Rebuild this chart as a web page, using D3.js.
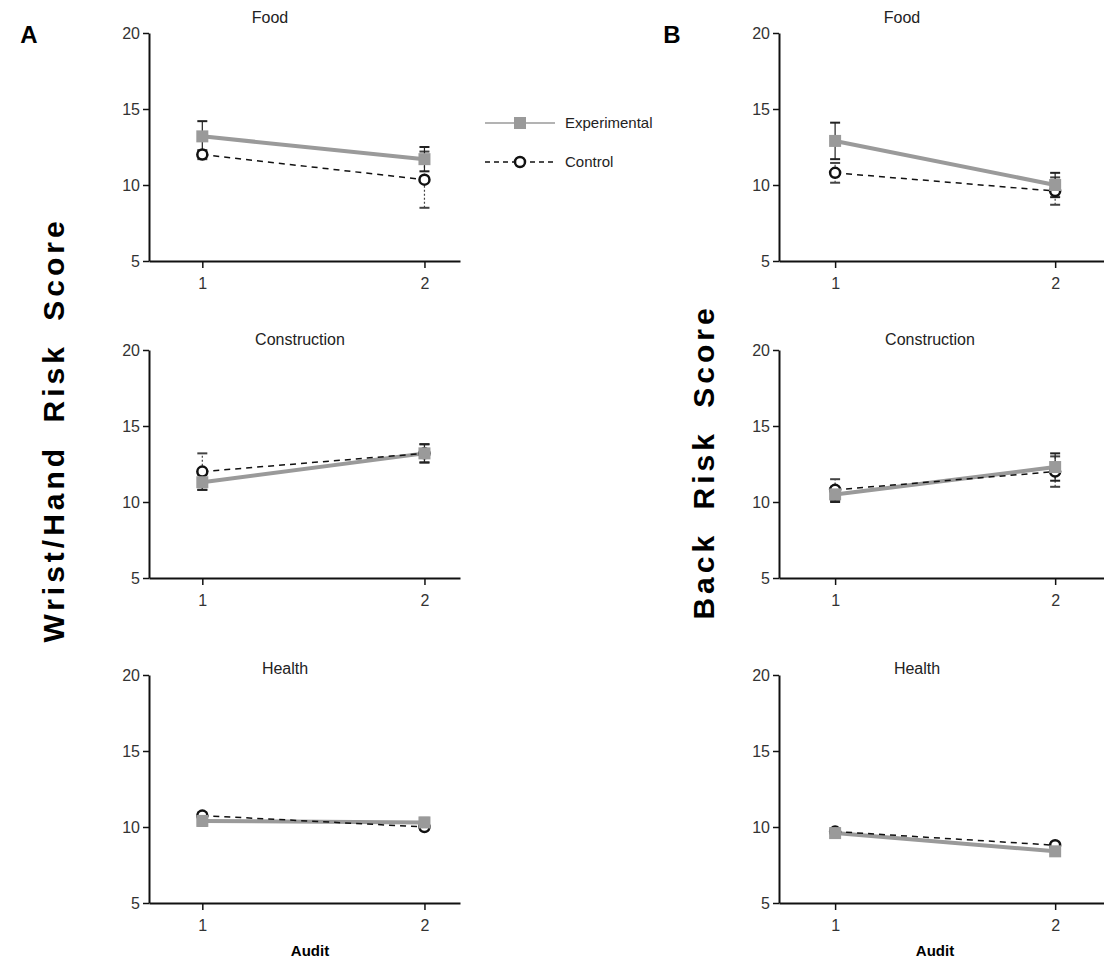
<!DOCTYPE html>
<meta charset="utf-8">
<script src="https://d3js.org/d3.v7.min.js"></script>
<style>
  body { margin: 0; background: #fff; }
  text { font-family: Arial, "Liberation Sans", sans-serif; }
</style>
<body>
<div id="chart"></div>
<script>

// sectors (one row of panels each) and audit rounds
const sectors = ["Food", "Construction", "Health"];
const audits = [1, 2];
const yTicks = [5, 10, 15, 20];

// A: wrist/hand risk score, mean per audit
const wristExp = [[13.2, 11.7], [11.3, 13.2], [10.4, 10.3]];
const wristExpErr = [[1.0, 0.8], [0.5, 0.6], [0.3, 0.3]];
const wristCtrl = [[12.0, 10.35], [12.0, 13.2], [10.75, 10.0]];
const wristCtrlErr = [[0.3, 1.85], [1.2, 0.6], [0.2, 0.2]];

// B: back risk score
const backExp = [[12.9, 10.0], [10.5, 12.3], [9.6, 8.4]];
const backExpErr = [[1.2, 0.8], [0.5, 0.9], [0.3, 0.3]];
const backCtrl = [[10.8, 9.6], [10.8, 12.0], [9.7, 8.8]];
const backCtrlErr = [[0.65, 0.9], [0.7, 1.0], [0.2, 0.2]];

const W = 1104, H = 963;
const svg = d3.select("#chart").append("svg")
  .attr("width", W).attr("height", H);

// layout of the two columns
const columns = [
  {letter: "A", lx: 29, left: 149, width: 311, xDomain: [0.76, 2.16],
   label: "Wrist/Hand Risk Score", labelX: 64, labelY: 430,
   exp: wristExp, expErr: wristExpErr, ctrl: wristCtrl, ctrlErr: wristCtrlErr,
   titleX: [270, 300, 285], auditX: 310},
  {letter: "B", lx: 672, left: 779, width: 325, xDomain: [0.745, 2.222],
   label: "Back Risk Score", labelX: 714, labelY: 462,
   exp: backExp, expErr: backExpErr, ctrl: backCtrl, ctrlErr: backCtrlErr,
   titleX: [902, 930, 917], auditX: 935}
];
const panelTops = [33, 350, 675];
const titleDy = [-10, -5, -1];
const plotH = 228;

const expColor = "#9a9a9a";

columns.forEach(function(col) {
  // panel letter
  svg.append("text")
    .attr("x", col.lx).attr("y", 43)
    .attr("text-anchor", "middle")
    .style("font-size", "24px").style("font-weight", "bold")
    .text(col.letter);

  // shared y label
  svg.append("text")
    .attr("transform", `translate(${col.labelX},${col.labelY}) rotate(-90)`)
    .attr("text-anchor", "middle")
    .style("font-size", "30px").style("font-weight", "bold")
    .style("letter-spacing", "4px").style("word-spacing", "10px")
    .text(col.label);

  sectors.forEach(function(sector, i) {
    const g = svg.append("g")
      .attr("transform", `translate(${col.left},${panelTops[i]})`);

    const x = d3.scaleLinear().domain(col.xDomain).range([0, col.width]);
    const y = d3.scaleLinear().domain([5, 20]).range([plotH, 0]);

    // axes
    const yAxis = g.append("g")
      .call(d3.axisLeft(y).tickValues(yTicks).tickFormat(d3.format("d"))
        .tickSize(6).tickSizeOuter(0).tickPadding(3));
    const xAxis = g.append("g")
      .attr("transform", `translate(0,${plotH})`)
      .call(d3.axisBottom(x).tickValues(audits).tickFormat(d3.format("d"))
        .tickSize(7).tickSizeOuter(0).tickPadding(10));
    [yAxis, xAxis].forEach(function(a) {
      a.select(".domain").attr("stroke", "#111").attr("stroke-width", 2);
      a.selectAll(".tick line").attr("stroke", "#111").attr("stroke-width", 1.5);
      a.selectAll(".tick text").style("font-size", "16px").attr("fill", "#333");
    });

    // title
    svg.append("text")
      .attr("x", col.titleX[i]).attr("y", panelTops[i] + titleDy[i])
      .attr("text-anchor", "middle")
      .style("font-size", "16px").attr("fill", "#222")
      .text(sector);

    const expPts = audits.map((a, j) => ({a: a, v: col.exp[i][j], e: col.expErr[i][j]}));
    const ctrlPts = audits.map((a, j) => ({a: a, v: col.ctrl[i][j], e: col.ctrlErr[i][j]}));
    const line = d3.line().x(d => x(d.a)).y(d => y(d.v));

    // error bars
    function errBars(pts, color, dash) {
      const eb = g.append("g");
      pts.forEach(function(d) {
        eb.append("line")
          .attr("x1", x(d.a)).attr("x2", x(d.a))
          .attr("y1", y(d.v - d.e)).attr("y2", y(d.v + d.e))
          .attr("stroke", color).attr("stroke-width", 1.2)
          .attr("stroke-dasharray", dash);
        [d.v - d.e, d.v + d.e].forEach(function(v) {
          eb.append("line")
            .attr("x1", x(d.a) - 5).attr("x2", x(d.a) + 5)
            .attr("y1", y(v)).attr("y2", y(v))
            .attr("stroke", color).attr("stroke-width", 2);
        });
      });
    }
    errBars(ctrlPts, "#444", "2,2");
    errBars(expPts, "#222", null);

    g.append("path").datum(expPts)
      .attr("d", line).attr("fill", "none")
      .attr("stroke", expColor).attr("stroke-width", 4);
    g.append("path").datum(ctrlPts)
      .attr("d", line).attr("fill", "none")
      .attr("stroke", "#111").attr("stroke-width", 1.5)
      .attr("stroke-dasharray", "6,5");

    g.selectAll(".ctrl").data(ctrlPts).enter().append("circle")
      .attr("cx", d => x(d.a)).attr("cy", d => y(d.v)).attr("r", 5)
      .attr("fill", "#fff").attr("stroke", "#111").attr("stroke-width", 2.5);
    g.selectAll(".exp").data(expPts).enter().append("rect")
      .attr("x", d => x(d.a) - 6).attr("y", d => y(d.v) - 6)
      .attr("width", 12).attr("height", 12)
      .attr("fill", expColor);

    if (i === sectors.length - 1) {
      svg.append("text")
        .attr("x", col.auditX).attr("y", panelTops[i] + plotH + 53)
        .attr("text-anchor", "middle")
        .style("font-size", "15px").style("font-weight", "bold")
        .text("Audit");
    }
  });
});

// legend
const legend = svg.append("g").attr("transform", "translate(485,0)");
legend.append("line").attr("x1", 0).attr("x2", 70).attr("y1", 123).attr("y2", 123)
  .attr("stroke", expColor).attr("stroke-width", 1.5);
legend.append("rect").attr("x", 29).attr("y", 117).attr("width", 12).attr("height", 12)
  .attr("fill", expColor);
legend.append("text").attr("x", 80).attr("y", 128)
  .style("font-size", "15px").attr("fill", "#222").text("Experimental");
legend.append("line").attr("x1", 0).attr("x2", 70).attr("y1", 162).attr("y2", 162)
  .attr("stroke", "#111").attr("stroke-width", 1.5).attr("stroke-dasharray", "5,4");
legend.append("circle").attr("cx", 35).attr("cy", 162).attr("r", 5)
  .attr("fill", "#fff").attr("stroke", "#111").attr("stroke-width", 2.5);
legend.append("text").attr("x", 80).attr("y", 167)
  .style("font-size", "15px").attr("fill", "#222").text("Control");

</script>
</body>
